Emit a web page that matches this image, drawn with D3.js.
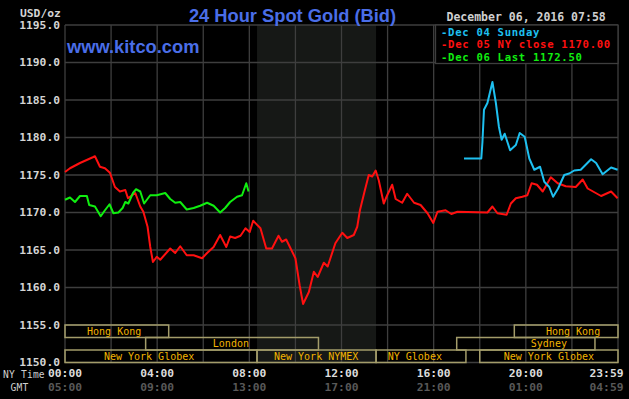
<!DOCTYPE html>
<html>
<head>
<meta charset="utf-8">
<script src="https://cdn.jsdelivr.net/npm/d3@7"></script>
<style>
  html, body { margin: 0; padding: 0; background: #000; }
  svg { display: block; }
</style>
</head>
<body>
<svg id="chart" width="629" height="399"></svg>
<script>
// ---------------- data ----------------
const title = "24 Hour Spot Gold (Bid)";
const stamp = "December 06, 2016 07:58";
const unitLabel = "USD/oz";
const site = "www.kitco.com";

const yTicks = [1150, 1155, 1160, 1165, 1170, 1175, 1180, 1185, 1190, 1195];
const nyTickTimes = ["00:00", "04:00", "08:00", "12:00", "16:00", "20:00", "23:59"];
const gmtTickLabels = ["05:00", "09:00", "13:00", "17:00", "21:00", "01:00", "04:59"];
const gridTimes = ["00:00","02:00","04:00","06:00","08:00","10:00","12:00","14:00","16:00","18:00","20:00","22:00","24:00"];

const legendLabels = ["Dec 04 Sunday", "Dec 05 NY close 1170.00", "Dec 06 Last 1172.50"];

// Dec 04 Sunday (blue)
const blueTimes = ["17:19","18:04","18:07","18:11","18:20","18:33","18:42","18:50","18:57","19:05","19:19","19:34","19:44","19:57","20:09","20:22","20:37","20:48","21:01","21:11","21:24","21:40","21:53","22:06","22:23","22:50","23:03","23:20","23:42","23:59"];
const blueValues = [1177.2,1177.2,1179.4,1183.7,1184.6,1187.4,1184.6,1181.4,1179.7,1180.5,1178.3,1179.0,1180.6,1180.1,1177.2,1175.7,1176.1,1174.1,1173.4,1172.1,1173.2,1175.0,1175.2,1175.6,1175.7,1177.1,1176.6,1175.1,1176.0,1175.7];

// Dec 05 NY close (red)
const redTimes = ["00:00","00:13","00:39","01:14","01:18","01:31","01:44","01:57","02:10","02:23","02:37","02:44","03:03","03:16","03:24","03:35","03:42","03:49","03:59","04:08","04:34","04:47","05:00","05:17","05:35","05:57","06:10","06:27","06:44","07:00","07:10","07:23","07:37","07:41","07:50","08:01","08:10","08:29","08:44","08:59","09:16","09:25","09:36","10:00","10:11","10:20","10:35","10:48","10:58","11:14","11:24","11:44","12:02","12:15","12:32","12:41","12:48","13:00","13:11","13:20","13:29","13:37","13:50","13:59","14:12","14:21","14:38","14:51","15:09","15:26","15:44","15:59","16:10","16:31","16:46","17:02","18:20","18:33","18:46","19:10","19:21","19:34","19:51","20:04","20:15","20:29","20:44","21:05","21:23","21:44","22:10","22:28","22:41","23:16","23:42","23:59"];
const redValues = [1175.4,1175.9,1176.6,1177.4,1177.5,1176.1,1175.9,1175.3,1173.4,1172.8,1173.0,1171.9,1172.6,1170.8,1170.1,1168.1,1165.4,1163.4,1164.1,1163.7,1165.2,1164.6,1165.5,1164.3,1164.3,1163.9,1164.6,1165.4,1167.0,1165.4,1166.8,1166.6,1166.9,1167.2,1167.9,1167.4,1168.9,1167.9,1165.2,1165.2,1166.9,1166.1,1166.4,1163.9,1160.3,1157.8,1159.4,1162.1,1161.4,1163.3,1162.8,1165.9,1167.3,1166.6,1167.0,1168.1,1170.3,1172.8,1175.0,1174.8,1175.6,1174.3,1171.2,1172.3,1173.7,1171.8,1171.3,1172.5,1171.3,1171.0,1169.9,1168.6,1170.1,1170.3,1169.8,1170.1,1170.0,1170.8,1169.9,1169.7,1171.2,1171.9,1172.1,1172.3,1173.9,1173.7,1172.8,1174.7,1173.9,1173.5,1173.4,1174.4,1173.2,1172.2,1172.8,1171.9];

// Dec 06 Last (green)
const greenTimes = ["00:00","00:13","00:26","00:39","00:57","01:03","01:18","01:33","01:44","01:56","02:06","02:19","02:30","02:37","02:45","02:57","03:05","03:16","03:26","03:42","03:59","04:21","04:34","04:47","05:00","05:17","05:35","05:52","06:10","06:27","06:44","06:57","07:10","07:28","07:41","07:52","07:58"];
const greenValues = [1171.7,1172.0,1171.4,1172.2,1172.2,1171.0,1170.8,1169.5,1170.3,1171.1,1169.9,1170.0,1170.6,1171.4,1171.2,1172.6,1173.1,1172.8,1171.2,1172.3,1172.3,1172.6,1171.8,1171.3,1171.4,1170.4,1170.6,1170.9,1171.3,1170.9,1170.0,1170.6,1171.4,1172.1,1172.3,1173.9,1172.8];

// trading sessions: [name, start, end, row, label centre]
const sessions = [
  ["Hong Kong", "00:00", "04:30", 0, "02:08"],
  ["Hong Kong", "19:30", "24:00", 0, "22:03"],
  ["London", "03:30", "11:00", 1, "07:12"],
  ["Sydney", "17:00", "23:00", 1, "21:00"],
  ["New York Globex", "00:00", "08:20", 2, "03:39"],
  ["New York NYMEX", "08:20", "13:30", 2, "10:54"],
  ["NY Globex", "13:30", "17:24", 2, "15:11"],
  ["New York Globex", "18:00", "24:00", 2, "21:00"]
];
const shadedSpan = ["08:20", "13:30"];

// ---------------- drawing ----------------
const toMin = s => { const [h, m] = s.split(":").map(Number); return h * 60 + m; };
const svg = d3.select("#chart");
const W = 629, H = 399;
const x = d3.scaleLinear().domain([0, 1440]).range([65, 618]);
const y = d3.scaleLinear().domain([1150, 1195]).range([362.5, 25]);
const mono = "'DejaVu Sans Mono', 'Liberation Mono', monospace";
const gridCol = "#3e3e3e";

svg.append("rect").attr("width", W).attr("height", H).attr("fill", "#000");

// shaded NYMEX period
svg.append("rect")
  .attr("x", x(toMin(shadedSpan[0]))).attr("y", y(1195))
  .attr("width", x(toMin(shadedSpan[1])) - x(toMin(shadedSpan[0])))
  .attr("height", y(1150) - y(1195))
  .attr("fill", "#161816");

// grid
const grid = svg.append("g").attr("stroke", gridCol).attr("stroke-width", 1.3);
yTicks.forEach(v => grid.append("line")
  .attr("x1", x(0)).attr("x2", x(1440)).attr("y1", y(v)).attr("y2", y(v)));
gridTimes.forEach(t => grid.append("line")
  .attr("x1", x(toMin(t))).attr("x2", x(toMin(t))).attr("y1", y(1195)).attr("y2", y(1150)));

// legend box
const lgX0 = 435.5, lgX1 = x(1440), lgY1 = 63.5;
svg.append("rect").attr("x", lgX0).attr("y", y(1195)).attr("width", lgX1 - lgX0)
  .attr("height", lgY1 - y(1195)).attr("fill", "#000").attr("stroke", gridCol).attr("stroke-width", 1.3);

// session boxes
const rowH = (y(1150) - y(1155)) / 3;
const sess = svg.append("g");
sessions.forEach(([name, s, e, row, lab]) => {
  const x0 = x(toMin(s)), x1 = x(toMin(e));
  const y0 = y(1155) + row * rowH;
  sess.append("rect").attr("x", x0).attr("y", y0).attr("width", x1 - x0).attr("height", rowH)
    .attr("fill", "none").attr("stroke", "#a39c6a").attr("stroke-width", 1.5);
  sess.append("text").attr("x", x(toMin(lab))).attr("y", y0 + rowH / 2)
    .attr("dy", "0.36em").attr("text-anchor", "middle")
    .attr("font-family", mono).attr("font-size", 10).attr("fill", "#f2b400")
    .text(name);
});

// lines
const line = d3.line().x(d => x(toMin(d[0]))).y(d => y(d[1]));
const series = [
  [redTimes, redValues, "#ff1010"],
  [greenTimes, greenValues, "#10ee10"],
  [blueTimes, blueValues, "#1ec0f0"]
];
series.forEach(([ts, vs, col]) => {
  svg.append("path").datum(ts.map((t, i) => [t, vs[i]]))
    .attr("d", line).attr("fill", "none").attr("stroke", col)
    .attr("stroke-width", 2).attr("stroke-linejoin", "round");
});

// y axis
const yAxis = d3.axisLeft(y).tickValues(yTicks).tickFormat(d3.format(".1f")).tickSize(0).tickPadding(5);
const ya = svg.append("g").attr("transform", `translate(${x(0)},0)`).call(yAxis);
ya.select(".domain").remove();
ya.selectAll("text").attr("font-family", mono).attr("font-weight", "bold")
  .attr("font-size", 11.3).attr("fill", "#d4d4d4").attr("dy", "0.3em");

// x labels
nyTickTimes.forEach((t, i) => {
  let cx = x(toMin(t));
  cx = Math.min(cx, W - 5 - 17.5);
  svg.append("text").attr("x", cx).attr("y", 377).attr("text-anchor", "middle")
    .attr("font-family", mono).attr("font-weight", "bold").attr("font-size", 11.3)
    .attr("fill", "#dcdcdc").text(t);
  svg.append("text").attr("x", cx).attr("y", 391).attr("text-anchor", "middle")
    .attr("font-family", mono).attr("font-weight", "bold").attr("font-size", 11.3)
    .attr("fill", "#585858").text(gmtTickLabels[i]);
});
svg.append("text").attr("x", 3).attr("y", 377.5).attr("font-family", mono)
  .attr("font-size", 9.6).attr("letter-spacing", 0.2).attr("fill", "#cfcfcf").text("NY Time");
svg.append("text").attr("x", 19.5).attr("y", 391).attr("text-anchor", "middle").attr("font-family", mono)
  .attr("font-size", 9.6).attr("letter-spacing", 0.2).attr("fill", "#cfcfcf").text("GMT");

// header texts
svg.append("text").attr("x", 20).attr("y", 16.5).attr("font-family", mono).attr("font-weight", "bold")
  .attr("font-size", 11.3).attr("fill", "#d4d4d4").text(unitLabel);
svg.append("text").attr("x", 292.5).attr("y", 21.5).attr("text-anchor", "middle")
  .attr("font-family", "'Liberation Sans', Arial, sans-serif").attr("font-weight", "bold")
  .attr("font-size", 18.3).attr("fill", "#4a6ee8").text(title);
svg.append("text").attr("x", 67).attr("y", 53.3)
  .attr("font-family", "'Liberation Sans', Arial, sans-serif").attr("font-weight", "bold")
  .attr("font-size", 18.3).attr("fill", "#4a6ee8").text(site);
svg.append("text").attr("x", 446.5).attr("y", 21).attr("font-family", mono).attr("font-weight", "bold")
  .attr("font-size", 11.5).attr("fill", "#cfcfcf").text(stamp);

// legend
const legCols = ["#1ec0f0", "#ff1010", "#10ee10"];
legendLabels.forEach((l, i) => {
  svg.append("text").attr("x", 441).attr("y", 36 + i * 12.4)
    .attr("font-family", mono).attr("font-weight", "bold").attr("font-size", 10.6)
    .attr("letter-spacing", 0.7).attr("fill", legCols[i]).text("-" + l);
});
</script>
</body>
</html>
